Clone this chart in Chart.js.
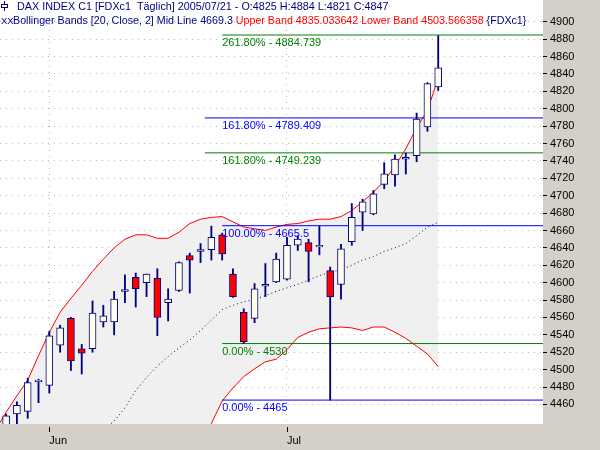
<!DOCTYPE html>
<html>
<head>
<meta charset="utf-8">
<script src="https://cdn.jsdelivr.net/npm/chart.js@4.4.0/dist/chart.umd.min.js"></script>
<style>
  html, body { margin:0; padding:0; background:#d4d0c8; }
  #wrap { width:600px; height:450px; }
</style>
</head>
<body>
<div id="wrap"><canvas id="chart" width="600" height="450"></canvas></div>
<script>
// trading days shown (first one only carries band values)
const DATES = [
  '2005-05-25','2005-05-26','2005-05-27','2005-05-30','2005-05-31',
  '2005-06-01','2005-06-02','2005-06-03','2005-06-06','2005-06-07','2005-06-08','2005-06-09','2005-06-10',
  '2005-06-13','2005-06-14','2005-06-15','2005-06-16','2005-06-17','2005-06-20','2005-06-21','2005-06-22',
  '2005-06-23','2005-06-24','2005-06-27','2005-06-28','2005-06-29','2005-06-30',
  '2005-07-01','2005-07-04','2005-07-05','2005-07-06','2005-07-07','2005-07-08','2005-07-11','2005-07-12',
  '2005-07-13','2005-07-14','2005-07-15','2005-07-18','2005-07-19','2005-07-20','2005-07-21'
];
const OPEN  = [null,4430,4449,4452,4486,4482,4528,4559,4524,4524,4555,4555,4590,4606,4600,4605,4577,4591,4631,4636,4638,
               4655,4610,4566,4559,4596,4601,4604,4643,4646,4641,4614,4598,4647,4681,4679,4713,4724,4742,4746,4779,4825];
const HIGH  = [null,4449,4463,4490,4489,4544,4551,4560,4529,4579,4574,4590,4609,4611,4610,4616,4593,4624,4634,4645,4665,
               4657,4616,4570,4599,4622,4634,4652,4654,4650,4665,4618,4644,4691,4696,4706,4738,4747,4749,4795,4830,4884];
const LOW   = [null,4425,4437,4444,4462,4473,4520,4499,4495,4520,4549,4540,4577,4572,4584,4539,4556,4590,4588,4623,4626,
               4626,4583,4530,4554,4584,4600,4603,4637,4601,4632,4465,4581,4643,4660,4678,4708,4711,4725,4739,4774,4821];
const CLOSE = [null,4447,4459,4485,4488,4539,4548,4510,4519,4565,4562,4581,4592,4593,4610,4560,4581,4623,4626,4638,4652,
               4633,4584,4532,4593,4598,4627,4643,4650,4636,4643,4584,4639,4675,4693,4702,4725,4742,4744,4788,4829,4847];

// Bollinger Bands [20, Close, 2]
const UPPER = [4430,4451,4470,4488,4516,4543,4566,4582,4597,4613,4627,4640,4650,4655,4655,4651,4651,4658,4668,4673,4675,
               4676,4670,4664,4662,4660,4664,4667,4668,4671,4673,4673,4676,4683,4693,4704,4717,4734,4754,4778,4798,4835.033642];
const MID   = [4340,4350,4360,4370,4380,4390,4398,4406,4414,4422,4430,4441,4456,4476,4491,4504,4515,4525,4534,4545,4557,
               4569,4574,4578,4581,4585,4590,4594,4598,4603,4608,4612,4615,4620,4626,4630,4636,4640,4645,4654,4664,4669.3];
const LOWER = [4250,4249,4250,4252,4244,4237,4230,4230,4231,4231,4233,4242,4262,4297,4327,4357,4379,4392,4400,4417,4438,
               4464,4479,4492,4501,4509,4512,4523,4537,4543,4547,4548,4549,4548,4545,4549,4549,4543,4536,4527,4518,4503.566358];

// Fibonacci levels
const FIB_LEVELS = [4884.739, 4789.409, 4749.239, 4665.5, 4530, 4465];
const FIB_LABELS = ['261.80% - 4884.739','161.80% - 4789.409','161.80% - 4749.239','100.00% - 4665.5','0.00% - 4530','0.00% - 4465'];
const FIB_FROM   = [21, 19.4, 19.4, 21, 21, 21];
const FIB_COLORS = ['#008000','#0000ff','#008000','#0000ff','#008000','#0000ff'];

const Y_TICKS = [4460,4480,4500,4520,4540,4560,4580,4600,4620,4640,4660,4680,4700,4720,4740,4760,4780,4800,4820,4840,4860,4880,4900];
const MONTHS = ['Jan','Feb','Mar','Apr','May','Jun','Jul','Aug','Sep','Oct','Nov','Dec'];

const X_MIN = 0.435, X_MAX = 50.7;
const Y_MIN = 4437.5, Y_MAX = 4925;
const NAVY = '#000080';
const FONT = '"Liberation Sans", Arial, sans-serif';

const monthTicks = DATES.map((d, k) => k).filter(k => k > 0 && DATES[k].slice(5, 7) !== DATES[k - 1].slice(5, 7));
const candles = DATES.map((d, k) => k).filter(k => OPEN[k] != null);
const line = arr => arr.map((v, k) => ({x:k, y:v}));

const datasets = [
  { type:'line', data:line(UPPER), borderColor:'#ff0000', borderWidth:1, pointRadius:0, tension:0,
    fill:{target:1}, backgroundColor:'#f0f0f0', order:7 },
  { type:'line', data:line(LOWER), borderColor:'#ff0000', borderWidth:1, pointRadius:0, tension:0, fill:false, order:6 },
  { type:'line', data:line(MID), borderColor:NAVY, borderWidth:1, borderDash:[1,3], pointRadius:0, tension:0, fill:false, order:5 },
];
FIB_LEVELS.forEach((lv, i) => {
  datasets.push({ type:'line', data:[{x:FIB_FROM[i], y:lv}, {x:X_MAX, y:lv}], borderColor:FIB_COLORS[i],
    borderWidth:1, pointRadius:0, fill:false, order:3 });
});
datasets.push({ type:'bar', data:candles.map(k => ({x:k, y:[LOW[k], HIGH[k]]})), backgroundColor:NAVY,
  borderWidth:0, barThickness:1.2, grouped:false, order:1 });
datasets.push({ type:'bar', data:candles.map(k => ({x:k, y:[OPEN[k], CLOSE[k]]})),
  backgroundColor: c => (c.raw && CLOSE[c.raw.x] < OPEN[c.raw.x]) ? '#ff0000' : '#fffff0',
  borderColor:NAVY, borderWidth:1, borderSkipped:false, barThickness:7, grouped:false, order:0 });

const noPad = s => { s.paddingTop = 0; s.paddingBottom = 0; s.paddingLeft = 0; s.paddingRight = 0; };

const decor = {
  id:'decor',
  beforeDraw(chart) {
    const {ctx, chartArea:a} = chart;
    ctx.save();
    ctx.fillStyle = '#d4d0c8';
    ctx.fillRect(0, 0, chart.width, chart.height);
    ctx.fillStyle = '#ffffff';
    ctx.fillRect(a.left, a.top, a.right - a.left, a.bottom - a.top);
    ctx.restore();
  },
  afterDraw(chart) {
    const {ctx, chartArea:a, scales:{x, y}} = chart;
    ctx.save();
    // month tick marks
    ctx.strokeStyle = '#000';
    ctx.lineWidth = 1;
    monthTicks.forEach(k => {
      const px = Math.round(x.getPixelForValue(k)) + 0.5;
      ctx.beginPath(); ctx.moveTo(px, a.bottom + 3); ctx.lineTo(px, a.bottom + 8); ctx.stroke();
    });
    // fibonacci labels
    ctx.font = '11px ' + FONT;
    ctx.textBaseline = 'middle';
    FIB_LEVELS.forEach((lv, i) => {
      ctx.fillStyle = FIB_COLORS[i];
      ctx.fillText(FIB_LABELS[i], x.getPixelForValue(21), y.getPixelForValue(lv) + 8);
    });
    // header
    const n = DATES.length - 1;
    ctx.strokeStyle = NAVY;
    ctx.beginPath(); ctx.moveTo(4.5, 1); ctx.lineTo(4.5, 11); ctx.stroke();
    ctx.fillStyle = '#fff';
    ctx.fillRect(1.5, 4.5, 6, 3);
    ctx.strokeRect(1.5, 4.5, 6, 3);
    ctx.fillStyle = NAVY;
    ctx.font = '10.8px ' + FONT;
    const head1 = 'DAX INDEX C1 [FDXc1  Täglich] ' + DATES[n].replace(/-/g, '/') +
      ' - O:' + OPEN[n] + ' H:' + HIGH[n] + ' L:' + LOW[n] + ' C:' + CLOSE[n];
    ctx.fillText(head1, 17, 7);
    ctx.font = '9.5px ' + FONT;
    ctx.fillText('XX', 1, 21);
    ctx.font = '10.7px ' + FONT;
    const parts = [
      ['Bollinger Bands [20, Close, 2] Mid Line ' + MID[n] + ' ', NAVY],
      ['Upper Band ' + UPPER[n] + ' Lower Band ' + LOWER[n], '#ff0000'],
      [' {FDXc1}', NAVY]
    ];
    let tx = 13;
    parts.forEach(([t, col]) => { ctx.fillStyle = col; ctx.fillText(t, tx, 21); tx += ctx.measureText(t).width; });
    ctx.restore();
  }
};

new Chart(document.getElementById('chart'), {
  type:'bar',
  data:{ datasets },
  options:{
    responsive:false, animation:false, devicePixelRatio:1,
    layout:{ padding:0 },
    plugins:{ legend:{display:false}, tooltip:{enabled:false}, filler:{drawTime:'beforeDatasetsDraw'} },
    scales:{
      x:{
        type:'linear', position:'bottom', min:X_MIN, max:X_MAX, offset:false,
        afterBuildTicks: s => { s.ticks = monthTicks.map(k => ({value:k})); },
        afterFit: s => { s.height = 26; noPad(s); },
        ticks:{ callback: v => MONTHS[+DATES[v].slice(5, 7) - 1], align:'start', color:'#000',
                font:{family:FONT, size:11}, padding:10, maxRotation:0, autoSkip:false },
        grid:{ color:'#b8b8b8', offset:false, drawTicks:false },
        border:{ display:false, dash:[1,5] }
      },
      y:{
        type:'linear', position:'right', min:Y_MIN, max:Y_MAX,
        afterBuildTicks: s => { s.ticks = Y_TICKS.map(v => ({value:v})); },
        afterFit: s => { s.width = 57; noPad(s); },
        ticks:{ callback: v => String(v), color:'#000', font:{family:FONT, size:11}, padding:3 },
        grid:{ color:'#b8b8b8', tickColor:'#000', tickLength:4, tickBorderDash:[], tickBorderDashOffset:0 },
        border:{ display:false, dash:[1,5] }
      }
    }
  },
  plugins:[decor]
});
</script>
</body>
</html>
